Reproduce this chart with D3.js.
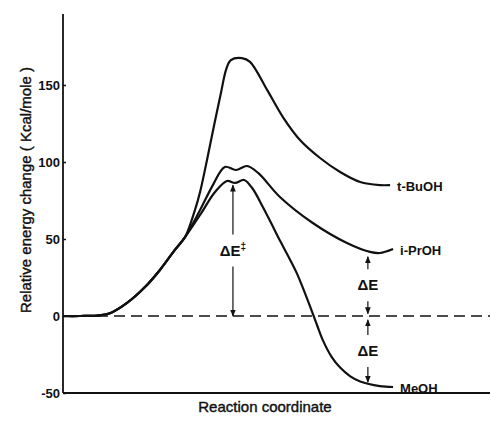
<!DOCTYPE html>
<html>
<head>
<meta charset="utf-8">
<script src="https://cdn.jsdelivr.net/npm/d3@7"></script>
<style>
  body { margin: 0; background: #fff; }
  text { font-family: "Liberation Sans", Arial, sans-serif; fill: #111; }
</style>
</head>
<body>
<div id="chart"></div>
<script>
// reaction coordinate runs 0..100 (arbitrary units), energies in kcal/mole
const sharedX = [0, 4, 8, 11, 15, 19.2, 22.7, 26.2, 28.6];
const sharedE = [0, 0, 0.3, 1.8, 8.5, 18.8, 29.9, 42.9, 51.3];

const meohX = [32.1, 35.6, 38.4, 40.3, 42.4, 44.3, 46.8, 48.8, 50.8, 53, 54.8, 56.5, 58.1, 59.5, 60.9, 62.9, 64.9, 67.2, 69.6, 74.2, 77.3];
const meohE = [65.6, 80.5, 87.7, 86.4, 88.3, 83.1, 70.8, 60, 49, 37.5, 27.5, 16, 4.5, -6, -16, -26.5, -33.5, -39, -42.5, -45.5, -46.1];

const iproX = [32.1, 35.1, 37.9, 40.5, 43.1, 45.7, 50.8, 58.5, 66.5, 71.9, 74.2, 77.3];
const iproE = [68.8, 85, 96.8, 94.8, 97.4, 92.9, 77.3, 60.4, 47.4, 41.6, 40.9, 43.5];

const tbuX = [30.9, 32.1, 33.7, 35.4, 37, 38.2, 39.3, 41.9, 43.8, 47.8, 51.5, 55.5, 60.2, 64.9, 69.6, 74.2, 76.6];
const tbuE = [68.8, 80.5, 101, 124, 145, 160, 166.2, 167.5, 165, 146.8, 129.2, 114.3, 102.6, 93.5, 87, 85, 85];

const seriesNames = ["t-BuOH", "i-PrOH", "MeOH"];
const yTicks = [-50, 0, 50, 100, 150];
const yTickLabels = ["-50", "0", "50", "100", "150"];

// energy-difference arrows
const arrowX = [39.8, 71.4, 71.4];
const arrowFrom = [0, 1.5, -2.5];
const arrowTo = [85, 38.5, -43];
const arrowLabels = ["ΔE", "ΔE", "ΔE"];

const W = 491, H = 423;
const svg = d3.select("#chart").append("svg")
  .attr("width", W).attr("height", H);

const x = d3.scaleLinear().domain([0, 100]).range([63, 490]);
const y = d3.scaleLinear().domain([-50, 150]).range([393, 85]);

const defs = svg.append("defs");
defs.append("marker")
  .attr("id", "head")
  .attr("viewBox", "0 0 10 10")
  .attr("refX", 9).attr("refY", 5)
  .attr("markerWidth", 6).attr("markerHeight", 6)
  .attr("orient", "auto")
  .append("path")
  .attr("d", "M0,1 L10,5 L0,9 Z")
  .attr("fill", "#111");

// axes
svg.append("line")
  .attr("x1", x(0)).attr("x2", x(0))
  .attr("y1", 14).attr("y2", y(-50))
  .attr("stroke", "#111").attr("stroke-width", 1.8);
svg.append("line")
  .attr("x1", x(0)).attr("x2", x(100))
  .attr("y1", y(-50)).attr("y2", y(-50))
  .attr("stroke", "#111").attr("stroke-width", 1.8);

const yAxis = svg.append("g")
  .attr("transform", `translate(${x(0)},0)`)
  .call(d3.axisLeft(y).tickValues(yTicks).tickSize(-3)
    .tickFormat((d, i) => yTickLabels[i]).tickPadding(3));
yAxis.select(".domain").remove();
yAxis.selectAll("line").attr("stroke", "#111").attr("stroke-width", 1.5);
yAxis.selectAll("text")
  .style("font-family", "'Liberation Sans', Arial, sans-serif")
  .style("font-size", "13px").style("font-weight", "bold").attr("fill", "#111");

// zero reference
svg.append("line")
  .attr("x1", x(0)).attr("x2", x(100))
  .attr("y1", y(0)).attr("y2", y(0))
  .attr("stroke", "#111").attr("stroke-width", 1.4)
  .attr("stroke-dasharray", "11,6");

const line = d3.line()
  .x(d => x(d[0])).y(d => y(d[1]))
  .curve(d3.curveCatmullRom.alpha(0.5));

const shared = sharedX.map((v, i) => [v, sharedE[i]]);
const build = (xs, es) => shared.concat(xs.map((v, i) => [v, es[i]]));
const curves = [build(tbuX, tbuE), build(iproX, iproE), build(meohX, meohE)];

curves.forEach((pts, i) => {
  svg.append("path")
    .attr("d", line(pts))
    .attr("fill", "none")
    .attr("stroke", "#111")
    .attr("stroke-width", 2.2);
  const last = pts[pts.length - 1];
  svg.append("text")
    .attr("x", x(last[0]) + 7)
    .attr("y", y(last[1]) + 1)
    .attr("dy", "0.35em")
    .style("font-size", "13px").style("font-weight", "bold")
    .text(seriesNames[i]);
});

// arrows with label breaking the shaft
arrowX.forEach((ax, i) => {
  const px = x(ax);
  const yTop = Math.min(y(arrowTo[i]), y(arrowFrom[i]));
  const yBot = Math.max(y(arrowTo[i]), y(arrowFrom[i]));
  const mid = (yTop + yBot) / 2;
  const gap = 16;
  svg.append("line")
    .attr("x1", px).attr("x2", px)
    .attr("y1", mid - gap).attr("y2", yTop)
    .attr("stroke", "#111").attr("stroke-width", 1.2)
    .attr("marker-end", "url(#head)");
  svg.append("line")
    .attr("x1", px).attr("x2", px)
    .attr("y1", mid + gap).attr("y2", yBot)
    .attr("stroke", "#111").attr("stroke-width", 1.2)
    .attr("marker-end", "url(#head)");
  const t = svg.append("text")
    .attr("x", px).attr("y", mid)
    .attr("dy", "0.35em")
    .attr("text-anchor", "middle")
    .style("font-size", "15px").style("font-weight", "bold");
  t.append("tspan").text(arrowLabels[i]);
  if (i === 0) {
    t.append("tspan").attr("dy", "-0.6em").style("font-size", "10px").text("‡");
  }
});

// axis titles
svg.append("text")
  .attr("x", 265).attr("y", 412)
  .attr("text-anchor", "middle")
  .style("font-size", "15px")
  .style("stroke", "#111").style("stroke-width", 0.4)
  .text("Reaction coordinate");

svg.append("text")
  .attr("transform", "translate(26,190) rotate(-90)")
  .attr("text-anchor", "middle")
  .attr("dy", "0.35em")
  .style("font-size", "15px")
  .style("stroke", "#111").style("stroke-width", 0.4)
  .text("Relative energy change ( Kcal/mole )");
</script>
</body>
</html>
